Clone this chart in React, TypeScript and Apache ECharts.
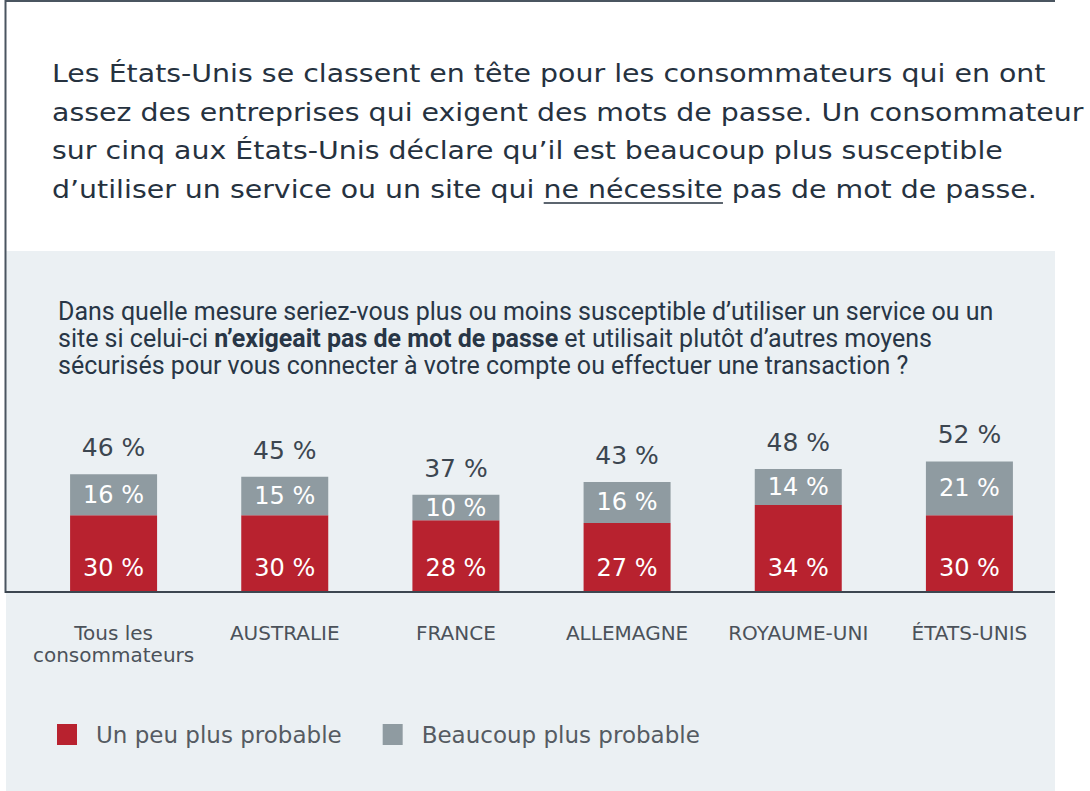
import React, { useEffect, useRef } from "react";
import * as echarts from "echarts";

const categories = ["Tous les\nconsommateurs", "AUSTRALIE", "FRANCE", "ALLEMAGNE", "ROYAUME-UNI", "ÉTATS-UNIS"];
const somewhatMore = [30, 30, 28, 27, 34, 30];
const muchMore = [16, 15, 10, 16, 14, 21];
const totals = [46, 45, 37, 43, 48, 52];
const seriesNames = ["Un peu plus probable", "Beaucoup plus probable"];

const titleLines = [
  "Les États-Unis se classent en tête pour les consommateurs qui en ont",
  "assez des entreprises qui exigent des mots de passe. Un consommateur",
  "sur cinq aux États-Unis déclare qu’il est beaucoup plus susceptible",
];
const titleLast = ["d’utiliser un service ou un site qui ", "ne nécessite", " pas de mot de passe."];
const questionLines = [
  "Dans quelle mesure seriez-vous plus ou moins susceptible d’utiliser un service ou un",
  "site si celui-ci {b|n’exigeait pas de mot de passe} et utilisait plutôt d’autres moyens",
  "sécurisés pour vous connecter à votre compte ou effectuer une transaction ?",
];

const RED = "#b8222f";
const GRAY = "#8f9ba1";
const TITLE_FONT = "DejaVu Sans";
const TITLE_SIZE = 25;

function measure(text: string, font: string): number {
  const c = document.createElement("canvas");
  const ctx = c.getContext("2d")!;
  ctx.font = font;
  return ctx.measureText(text).width;
}

export default function App() {
  const ref = useRef<HTMLDivElement>(null);
  useEffect(() => {
    if (!ref.current) return;
    const chart = echarts.init(ref.current, undefined, { renderer: "svg" });
    const fontStr = `${TITLE_SIZE}px "${TITLE_FONT}"`;
    const titleX = 52;
    const line1W = measure(titleLines[0], fontStr);
    const line2W = measure(titleLines[1], fontStr);
    let sx = 1;
    if (line1W > 0 && line2W > 0) sx = Math.min(1001 / line1W, 1032 / line2W);
    const prefixW = measure(titleLast[0], fontStr) * sx;
    const underW = measure(titleLast[1], fontStr) * sx;
    const titleY = [73, 112, 150, 189];

    const graphics: any[] = [
      { type: "rect", z: -10, shape: { x: 6, y: 251, width: 1049, height: 540 }, style: { fill: "#ebf0f3" } },
      { type: "line", shape: { x1: 5, y1: 1, x2: 1055, y2: 1 }, style: { stroke: "#4a5560", lineWidth: 2 } },
      { type: "line", shape: { x1: 5.5, y1: 0, x2: 5.5, y2: 593 }, style: { stroke: "#4a5560", lineWidth: 2 } },
      { type: "line", z: 10, shape: { x1: 5, y1: 592, x2: 1055, y2: 592 }, style: { stroke: "#3d4650", lineWidth: 2 } },
    ];
    titleLines.forEach((t, i) => {
      graphics.push({
        type: "text",
        x: titleX,
        y: titleY[i],
        scaleX: sx,
        style: { text: t, fill: "#26323f", fontFamily: TITLE_FONT, fontSize: TITLE_SIZE, textVerticalAlign: "middle" },
      });
    });
    graphics.push({
      type: "text",
      x: titleX,
      y: titleY[3],
      scaleX: sx,
      style: { text: titleLast.join(""), fill: "#26323f", fontFamily: TITLE_FONT, fontSize: TITLE_SIZE, textVerticalAlign: "middle" },
    });
    graphics.push({
      type: "line",
      shape: { x1: titleX + prefixW, y1: 203, x2: titleX + prefixW + underW, y2: 203 },
      style: { stroke: "#26323f", lineWidth: 1.5 },
    });
    const qY = [311, 338, 365];
    questionLines.forEach((t, i) => {
      graphics.push({
        type: "text",
        x: 58,
        y: qY[i],
        style: {
          text: t,
          fill: "#283646",
          fontFamily: "Roboto",
          fontSize: 25,
          textVerticalAlign: "middle",
          rich: { b: { fontFamily: "Roboto", fontSize: 25, fontWeight: "bold", fill: "#283646" } },
        },
      });
    });

    chart.setOption({
      animation: false,
      graphic: graphics,
      grid: { left: 28, right: 35, top: 336, bottom: 199 },
      legend: {
        data: seriesNames,
        left: 57,
        top: 723,
        padding: 0,
        icon: "rect",
        itemWidth: 20,
        itemHeight: 21,
        itemGap: 41,
        textStyle: { color: "#555b62", fontFamily: "DejaVu Sans", fontSize: 23, padding: [0, 0, 0, 14] },
      },
      xAxis: {
        type: "category",
        data: categories,
        axisLine: { show: false },
        axisTick: { show: false },
        axisLabel: { interval: 0, color: "#4b525a", fontFamily: "DejaVu Sans", fontSize: 20, margin: 30, lineHeight: 22 },
      },
      yAxis: { type: "value", min: 0, max: 100, show: false, splitLine: { show: false } },
      series: [
        {
          name: seriesNames[0],
          type: "bar",
          stack: "t",
          barWidth: 87,
          data: somewhatMore,
          itemStyle: { color: RED },
          label: {
            show: true,
            position: "insideBottom",
            distance: 12,
            formatter: "{c} %",
            color: "#fff",
            fontFamily: "DejaVu Sans",
            fontSize: 24,
          },
        },
        {
          name: seriesNames[1],
          type: "bar",
          stack: "t",
          barWidth: 87,
          data: muchMore,
          itemStyle: { color: GRAY },
          label: {
            show: true,
            position: "inside",
            formatter: "{c} %",
            color: "#fff",
            fontFamily: "DejaVu Sans",
            fontSize: 24,
          },
        },
        {
          name: "total",
          type: "bar",
          stack: "t",
          barWidth: 87,
          data: totals.map(() => 0),
          itemStyle: { color: "rgba(0,0,0,0)" },
          label: {
            show: true,
            position: "top",
            distance: 14,
            formatter: (p: any) => `${totals[p.dataIndex]} %`,
            color: "#3c4650",
            fontFamily: "DejaVu Sans",
            fontSize: 25,
          },
        },
      ],
    });
    return () => chart.dispose();
  }, []);
  return <div ref={ref} style={{ position: "absolute", left: 0, top: 0, width: 1090, height: 791, background: "#fff" }} />;
}
